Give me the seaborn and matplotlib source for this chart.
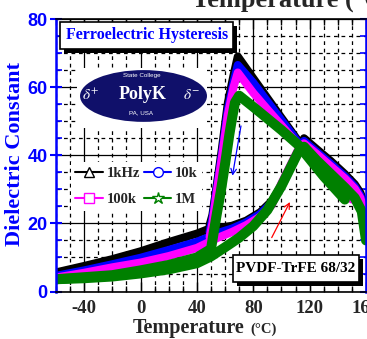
import matplotlib
matplotlib.use('Agg')
import matplotlib.pyplot as plt
import seaborn as sns
from matplotlib.patches import Ellipse, Rectangle
from matplotlib.lines import Line2D
from matplotlib.ticker import MultipleLocator

# ---------------- data ----------------
freq_labels = ['1kHz', '10k', '100k', '1M']
colors = ['black', 'blue', 'magenta', 'green']
markers = ['^', 'o', 's', '*']

temp_heat = [-60, -40, -20, 0, 20, 40, 48, 55, 65, 75, 85, 93, 100, 106, 112, 116,
             125, 135, 145, 152, 156, 158.5, 160]
k1_heat = [5.6, 7.5, 9.5, 11.8, 14.5, 17.0, 18.3, 18.6, 19.3, 20.8, 23.3, 26.5, 31.0,
           36.0, 41.2, 45.0, 41.8, 38.3, 34.5, 31.5, 29.0, 26.0, 22.0]
k10_heat = [4.6, 6.2, 8.0, 9.9, 12.2, 14.6, 15.9, 17.2, 18.5, 20.3, 22.8, 26.0, 30.7,
            35.8, 41.0, 44.2, 41.0, 37.5, 33.8, 30.8, 28.2, 25.0, 20.0]
k100_heat = [4.1, 5.5, 7.1, 8.5, 10.4, 12.8, 14.4, 15.8, 17.5, 19.5, 22.0, 25.3, 31.8,
             36.8, 41.8, 43.5, 40.4, 36.8, 33.2, 30.2, 27.5, 24.0, 18.0]
temp_heat_1m = [-60, -40, -20, 0, 20, 40, 50, 60, 70, 80, 90, 100, 106, 112, 116,
                125, 135, 145, 152, 157, 160]
m1_heat = [3.6, 3.9, 4.4, 5.3, 6.5, 8.3, 10.3, 13.0, 15.8, 19.2, 23.9, 31.0, 36.0,
           41.0, 42.5, 38.5, 34.5, 30.5, 27.5, 23.5, 15.0]

temp_cool = [150, 145, 130, 113, 100, 90, 80, 69, 66, 62, 57.6, 54, 51, 49]
k1_cool = [32.0, 33.5, 38.5, 43.6, 51.0, 56.8, 62.6, 69.0, 63.5, 55.5, 41.5, 31.0, 22.5, 19.5]
k10_cool = [29.5, 31.0, 36.0, 43.2, 50.3, 55.8, 61.3, 66.5, 61.5, 53.5, 40.0, 30.0, 21.5, 17.5]
k100_cool = [27.0, 28.5, 35.0, 42.5, 48.8, 53.5, 58.3, 64.3, 60.0, 52.0, 39.0, 29.0, 20.0, 16.0]
temp_cool_1m = [145, 130, 112, 100, 90, 80, 70, 67, 65, 63, 60, 57, 54, 52, 50, 40,
                20, 0, -20, -40, -60]
m1_cool = [27.0, 33.8, 43.0, 47.4, 50.8, 54.2, 57.5, 55.5, 51.0, 46.0, 37.5, 29.5,
           22.5, 17.5, 12.5, 10.0, 7.8, 6.2, 4.8, 4.2, 3.6]

x_ticks = [-40, 0, 40, 80, 120, 160]
y_ticks = [0, 20, 40, 60, 80]

# ---------------- figure ----------------
SERIF = 'Liberation Serif'
SANS = 'Liberation Sans'
sns.set_style('white')
plt.rcParams['font.family'] = [SERIF, 'DejaVu Serif']
plt.rcParams['axes.unicode_minus'] = False
plt.rcParams['mathtext.fontset'] = 'stix'

fig = plt.figure(figsize=(3.67, 3.39), dpi=100)
ax = fig.add_axes([56 / 367, 47.5 / 339, 310 / 367, 272.5 / 339])

series = [
    (temp_heat, k1_heat, temp_cool, k1_cool),
    (temp_heat, k10_heat, temp_cool, k10_cool),
    (temp_heat, k100_heat, temp_cool, k100_cool),
    (temp_heat_1m, m1_heat, temp_cool_1m, m1_cool),
]
widths = [5.8, 5.8, 5.8, 7.2]
for (th, vh, tc, vc), c, w in zip(series, colors, widths):
    sns.lineplot(x=th, y=vh, sort=False, estimator=None, color=c, lw=w, ax=ax,
                 legend=False, zorder=2)
    sns.lineplot(x=tc, y=vc, sort=False, estimator=None, color=c, lw=w, ax=ax,
                 legend=False, zorder=2)

ax.set_xlim(-60, 160)
ax.set_ylim(0, 80)
ax.set_xticks(x_ticks)
ax.set_yticks(y_ticks)
ax.xaxis.set_minor_locator(MultipleLocator(10))
ax.yaxis.set_minor_locator(MultipleLocator(5))
ax.set_axisbelow(True)
ax.grid(which='major', color='black', lw=0.9, ls='-')
ax.grid(which='minor', color='black', lw=0.9, ls=(0, (3, 3)))
ax.set_xlabel('')
ax.set_ylabel('')

for s in ['left', 'right']:
    ax.spines[s].set_color('blue')
    ax.spines[s].set_linewidth(1.8)
for s in ['top', 'bottom']:
    ax.spines[s].set_color('black')
    ax.spines[s].set_linewidth(1.2)

ax.tick_params(axis='y', which='major', direction='inout', length=8, width=1.5,
               color='blue', labelcolor='blue', right=True, left=True, pad=2)
ax.tick_params(axis='y', which='minor', direction='in', length=4, width=1.2,
               color='blue', right=True, left=True)
ax.tick_params(axis='x', which='major', direction='in', length=7, width=1,
               color='black', top=True, bottom=True, pad=6)
ax.tick_params(axis='x', which='minor', direction='in', length=4, width=1,
               color='black', top=True, bottom=True)
for lab in ax.get_yticklabels():
    lab.set_fontfamily(SANS)
    lab.set_fontweight('bold')
    lab.set_fontsize(13)
for lab in ax.get_xticklabels():
    lab.set_fontfamily(SERIF)
    lab.set_fontweight('bold')
    lab.set_fontsize(13.5)

# axis labels
fig.text(133 / 367, 6 / 339, 'Temperature', fontsize=14.5, fontweight='bold',
         family=SERIF, ha='left', va='baseline')
fig.text(250 / 367, 6 / 339, '(\u00b0C)', fontsize=10.5, fontweight='bold',
         family=[SERIF, 'DejaVu Serif'], ha='left', va='baseline')
fig.text(0.041, 0.545, 'Dielectric Constant', rotation=90, color='blue',
         fontsize=16, fontweight='bold', family=SERIF, ha='center', va='center')
# clipped title at top
fig.text(192 / 367, 1 - 8 / 339, 'Temperature (\u00b0C)', fontsize=19,
         fontweight='bold', family=SERIF, ha='left', va='baseline')

# "Ferroelectric Hysteresis" box with shadow
ax.add_patch(Rectangle((-54.4, 70.1), 123.1, 7.8, fc='black', ec='none', zorder=4))
ax.add_patch(Rectangle((-57.2, 71.3), 123.1, 7.8, fc='white', ec='black', lw=1.2,
                       zorder=5))
ax.text(4.4, 75.2, 'Ferroelectric Hysteresis', color='blue', fontsize=11.5,
        fontweight='bold', family=SERIF, ha='center', va='center', zorder=6)

# "PVDF-TrFE 68/32" box with shadow
ax.add_patch(Rectangle((68.7, 1.5), 88.9, 7.9, fc='black', ec='none', zorder=4))
ax.add_patch(Rectangle((65.9, 2.8), 88.9, 7.9, fc='white', ec='black', lw=1.2,
                       zorder=5))
ax.text(110.3, 6.7, 'PVDF-TrFE 68/32', color='black', fontsize=11,
        fontweight='bold', family=SERIF, ha='center', va='center', zorder=6)

# PolyK logo
ax.add_patch(Rectangle((-45, 48.0), 92.4, 17.7, fc='white', ec='none', zorder=3))
ax.add_patch(Ellipse((2.1, 57.4), 90.1, 15.2, fc='#10106a', ec='none', zorder=4))
ax.text(1.0, 63.3, 'State College', color='white', fontsize=4.5, family=SANS,
        ha='center', va='center', zorder=5)
ax.text(1.5, 57.8, 'PolyK', color='white', fontsize=13, fontweight='bold',
        family=SERIF, ha='center', va='center', zorder=5)
ax.text(0.5, 52.5, 'PA, USA', color='white', fontsize=4.5, family=SANS,
        ha='center', va='center', zorder=5)
ax.text(-35.1, 57.6, r'$\delta^{+}$', color='white', fontsize=11,
        ha='center', va='center', zorder=5)
ax.text(36.0, 57.6, r'$\delta^{-}$', color='white', fontsize=11,
        ha='center', va='center', zorder=5)

# arrows
ax.annotate('', xy=(64.9, 33.2), xytext=(71.6, 49.4),
            arrowprops=dict(arrowstyle='->', color='blue', lw=0.9), zorder=6)
ax.annotate('', xy=(106.9, 27.0), xytext=(92.2, 15.1),
            arrowprops=dict(arrowstyle='->', color='red', lw=0.9), zorder=6)

# legend
handles = [Line2D([], [], color=c, marker=m, mfc='white', mec=c,
                  ms=7 if m != '*' else 9, lw=1.5) for c, m in zip(colors, markers)]
order = [0, 2, 1, 3]
leg = ax.legend([handles[i] for i in order], [freq_labels[i] for i in order],
                ncol=2, frameon=True, loc='upper left',
                bbox_to_anchor=(0.0477, 0.474), borderaxespad=0, borderpad=0.3,
                handlelength=1.9, handletextpad=0.25, columnspacing=0.25,
                labelspacing=0.9, fancybox=False,
                prop=dict(family=SERIF, weight='bold', size=10.5))
leg.get_frame().set_facecolor('white')
leg.get_frame().set_edgecolor('none')
leg.get_frame().set_alpha(1)
leg.set_zorder(7)

fig.savefig('out.png', dpi=100)
